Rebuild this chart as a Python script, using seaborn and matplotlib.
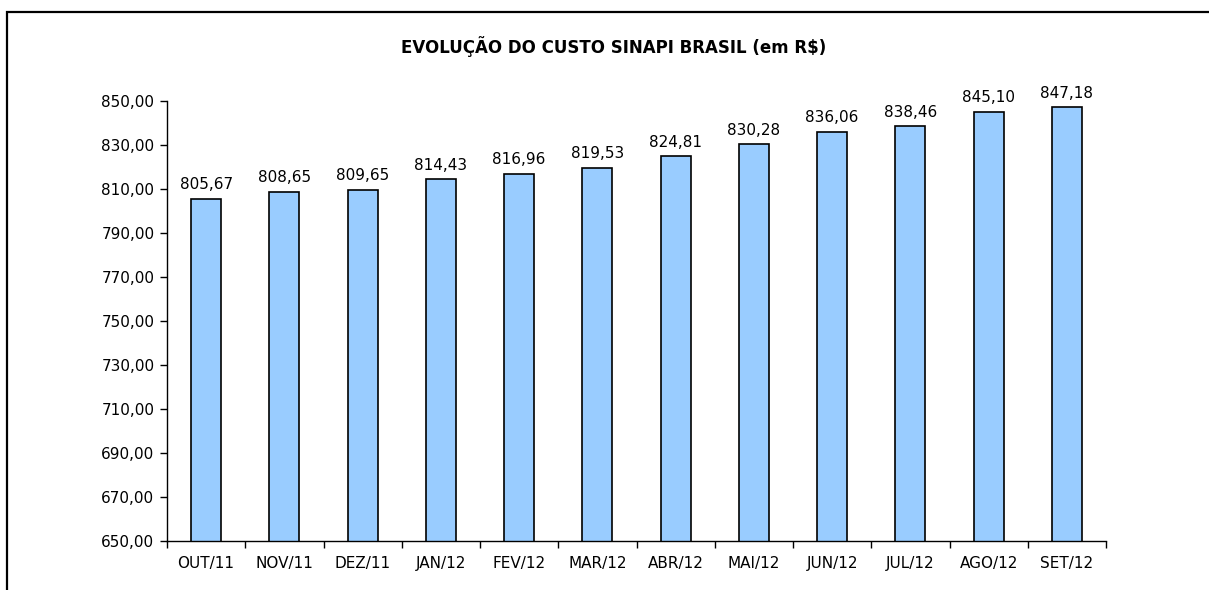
import numpy as np
import pandas as pd
import matplotlib
matplotlib.use("Agg")
import matplotlib.pyplot as plt
import seaborn as sns
from matplotlib.patches import Rectangle
from matplotlib.ticker import FixedLocator

meses = ["OUT/11", "NOV/11", "DEZ/11", "JAN/12", "FEV/12", "MAR/12",
         "ABR/12", "MAI/12", "JUN/12", "JUL/12", "AGO/12", "SET/12"]
custo = [805.67, 808.65, 809.65, 814.43, 816.96, 819.53,
         824.81, 830.28, 836.06, 838.46, 845.10, 847.18]
titulo = "EVOLUÇÃO DO CUSTO SINAPI BRASIL (em R$)"

sns.set_theme(style="white")
plt.rcParams['font.family'] = ['DejaVu Sans']

df = pd.DataFrame({"mes": meses, "custo": custo})

fig = plt.figure(figsize=(12.09, 5.90), dpi=100)
# axes box: x 167..1106 px, y 101..541 px
ax = fig.add_axes([167 / 1209, 1 - 541 / 590, (1106 - 167) / 1209, (541 - 101) / 590])

sns.barplot(data=df, x="mes", y="custo", color="#99CCFF", edgecolor="black",
            linewidth=1.2, width=0.385, saturation=1, ax=ax)

ax.set_ylim(650, 850)
ax.set_xlim(-0.5, len(meses) - 0.5)
yt = np.arange(650, 851, 20)
ax.set_yticks(yt)
ax.set_yticklabels([f"{v:.2f}".replace(".", ",") for v in yt], fontsize=11, color="black")
ax.tick_params(axis="x", which="major", length=0, labelsize=11, pad=11, labelcolor="black")
ax.xaxis.set_minor_locator(FixedLocator(np.arange(-0.5, len(meses), 1)))
ax.tick_params(axis="x", which="minor", direction="out", length=5, width=1, color="black", bottom=True)
ax.tick_params(axis="y", direction="out", length=5, width=1, color="black", left=True, pad=4)
ax.set_xlabel("")
ax.set_ylabel("")
for s in ["top", "right"]:
    ax.spines[s].set_visible(False)
for s in ["left", "bottom"]:
    ax.spines[s].set_color("black")
    ax.spines[s].set_linewidth(1)

for i, v in enumerate(custo):
    ax.text(i, v + 3, f"{v:.2f}".replace(".", ","), ha="center", va="bottom",
            fontsize=11, color="black")

fig.text(614 / 1209, 1 - 47 / 590, titulo, ha="center", va="center",
         fontsize=12, fontweight="bold", color="black")

fig.patches.append(Rectangle((7 / 1209, -0.1), 1.2, 1 - 12 / 590 + 0.1, transform=fig.transFigure,
                             fill=False, edgecolor="black", linewidth=1.6))

fig.savefig("out.png", dpi=100)
